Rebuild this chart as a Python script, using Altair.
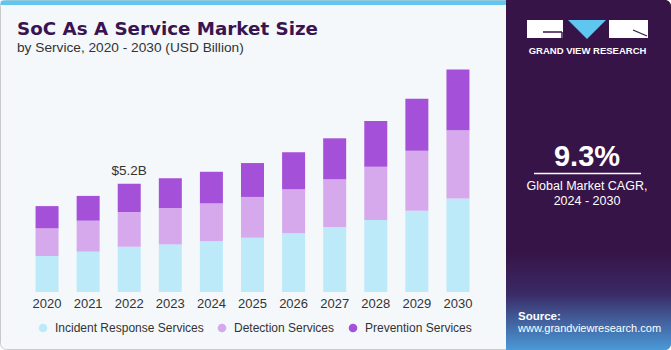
import altair as alt
import pandas as pd

years = [2020, 2021, 2022, 2023, 2024, 2025, 2026, 2027, 2028, 2029, 2030]
incident = [1.73, 1.94, 2.18, 2.29, 2.45, 2.61, 2.82, 3.13, 3.46, 3.91, 4.50]
detection = [1.33, 1.49, 1.67, 1.75, 1.81, 1.96, 2.12, 2.29, 2.56, 2.88, 3.28]
prevention = [1.07, 1.19, 1.35, 1.43, 1.52, 1.63, 1.78, 1.97, 2.20, 2.50, 2.92]
series = ["Incident Response Services", "Detection Services", "Prevention Services"]
colors = ["#bdeaf9", "#d5a9ec", "#a550d8"]
annot_year = [2022]
annot_value = [5.2]
annot_text = ["$5.2B"]

rows = []
for i, y in enumerate(years):
    for k, (name, vals) in enumerate(zip(series, [incident, detection, prevention])):
        rows.append({"year": y, "series": name, "value": vals[i], "ord": k})
df = pd.DataFrame(rows)
years_df = pd.DataFrame({"year": years, "label": [str(y) for y in years]})
annot_df = pd.DataFrame({"year": annot_year, "value": annot_value, "text": annot_text})
one = pd.DataFrame({"a": [0]})

FONT = "Liberation Sans"
xscale = alt.Scale(domain=[2019.5, 2030.5], range=[21.5, 483.5])
yscale = alt.Scale(domain=[0, 14.04], range=[292, 0])

def box(x1, x2, y1, y2, **kw):
    return alt.Chart(one).mark_rect(**kw).encode(
        x=alt.value(x1), x2=alt.value(x2), y=alt.value(y1), y2=alt.value(y2))

def txt(text, x, y, **kw):
    return alt.Chart(one).mark_text(text=text, **kw).encode(x=alt.value(x), y=alt.value(y))

def rule(x1, x2, y1, y2, **kw):
    return alt.Chart(one).mark_rule(**kw).encode(
        x=alt.value(x1), x2=alt.value(x2), y=alt.value(y1), y2=alt.value(y2))

card = box(0.5, 670.5, 0.5, 349.5, fill="#f4f8fb", stroke="#c9c9c9", strokeWidth=1, cornerRadius=6)
stripe = box(0.5, 506, 0.5, 5, fill="#5ec6ef", cornerRadiusTopLeft=6)

grad = alt.LinearGradient(
    gradient="linear",
    stops=[
        alt.GradientStop(offset=0, color="#371447"),
        alt.GradientStop(offset=0.72, color="#371447"),
        alt.GradientStop(offset=0.84, color="#3a2a66"),
        alt.GradientStop(offset=1, color="#4a9ad8"),
    ],
    x1=0, x2=0, y1=0, y2=1,
)
right = alt.Chart(one).mark_rect(color=grad, cornerRadiusTopRight=6, cornerRadiusBottomRight=6).encode(
    x=alt.value(506), x2=alt.value(671), y=alt.value(0), y2=alt.value(350))

# logo
logo_g = box(527, 563, 20, 38, fill="#ffffff", opacity=1)
logo_g1 = rule(543, 562, 32, 32, color="#371447", strokeWidth=1.5)
logo_g2 = rule(562, 562, 32, 38, color="#371447", strokeWidth=1.5)
tri = alt.Chart(one).mark_point(shape="M-1,-0.5L1,-0.5L0,0.5Z", filled=True, fill="#5ec6ef",
                                 stroke=None, opacity=1, size=1444).encode(
    x=alt.value(587), y=alt.value(29.5))
logo_r = box(609, 648, 20, 38, fill="#ffffff", opacity=1)
logo_r1 = rule(633, 647, 30, 36, color="#371447", strokeWidth=1.2)
gvr = txt("GRAND VIEW RESEARCH", 587.5, 51, font=FONT, fontSize=9.5, fontWeight="bold",
          color="white", align="center", baseline="middle")
cagr = txt("9.3%", 587, 166, font=FONT, fontSize=29, fontWeight="bold", color="white",
           align="center", baseline="alphabetic")
cline = rule(534, 641, 173.5, 173.5, color="white", strokeWidth=1.5)
cagr1 = txt("Global Market CAGR,", 587, 190, font=FONT, fontSize=12.5, color="white",
            align="center", baseline="alphabetic")
cagr2 = txt("2024 - 2030", 587, 205, font=FONT, fontSize=12.5, color="white",
            align="center", baseline="alphabetic")
src1 = txt("Source:", 518, 320, font=FONT, fontSize=11.5, fontWeight="bold", color="white",
           align="left", baseline="alphabetic")
src2 = txt("www.grandviewresearch.com", 518, 332, font=FONT, fontSize=11, color="white",
           align="left", baseline="alphabetic")

title = txt("SoC As A Service Market Size", 17, 35, font="DejaVu Sans", fontSize=18.3, fontWeight="bold",
            color="#3a1450", align="left", baseline="alphabetic")
subtitle = txt("by Service, 2020 - 2030 (USD Billion)", 17, 52, font=FONT, fontSize=13.7,
               color="#333333", align="left", baseline="alphabetic")

bars = alt.Chart(df).mark_bar(size=23).encode(
    x=alt.X("year:Q", scale=xscale, axis=None),
    y=alt.Y("value:Q", stack="zero", scale=yscale, axis=None),
    color=alt.Color("series:N", scale=alt.Scale(domain=series, range=colors),
                    legend=alt.Legend(title=None, orient="none", legendX=37, legendY=322,
                                      direction="horizontal", symbolType="circle", symbolSize=75,
                                      labelFont=FONT, labelFontSize=12, labelColor="#333333",
                                      labelOffset=6, columnPadding=12, padding=0,
                                      symbolStrokeWidth=0)),
    order=alt.Order("ord:Q", sort="ascending"),
)

year_labels = alt.Chart(years_df).mark_text(font=FONT, fontSize=13, color="#333333",
                                            baseline="alphabetic").encode(
    x=alt.X("year:Q", scale=xscale, axis=None),
    y=alt.value(308),
    text="label:N",
)

annot = alt.Chart(annot_df).mark_text(font=FONT, fontSize=13.5, color="#333333",
                                      baseline="alphabetic", dy=-9).encode(
    x=alt.X("year:Q", scale=xscale, axis=None),
    y=alt.Y("value:Q", scale=yscale, axis=None),
    text="text:N",
)

chart = alt.layer(
    card, stripe, right, logo_g, logo_g1, logo_g2, tri, logo_r, logo_r1, gvr, cagr, cline, cagr1, cagr2,
    src1, src2, title, subtitle, bars, year_labels, annot
).resolve_scale(x="shared", y="shared").properties(
    width=671, height=350, autosize=alt.AutoSizeParams(type="none"), padding=0,
    background="white"
).configure_view(stroke=None)

chart.save("out.html", embed_options={"renderer": "svg", "actions": False})
